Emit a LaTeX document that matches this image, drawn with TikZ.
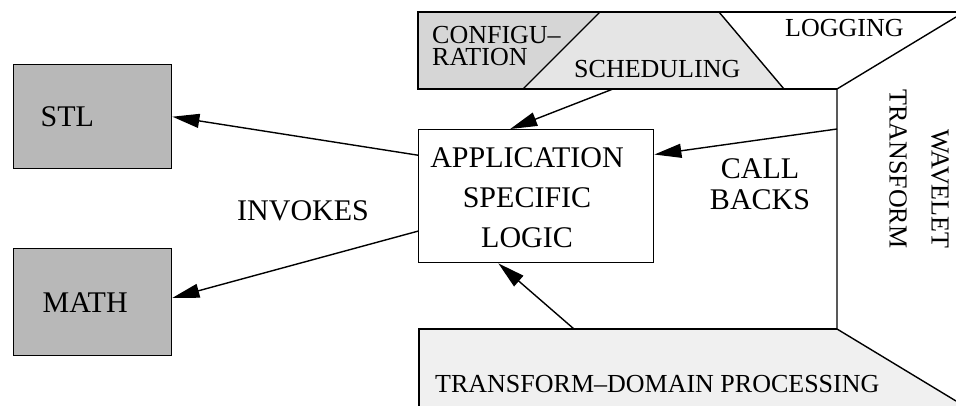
\documentclass[tikz,border=0pt]{standalone}
\usepackage{fontspec}
\setmainfont{LiberationSerif}[Extension=.ttf, UprightFont=*-Regular, Ligatures=TeX]
\usetikzlibrary{arrows.meta,calc}

\definecolor{libgray}{gray}{0.72}
\definecolor{cfggray}{gray}{0.84}
\definecolor{schgray}{gray}{0.90}
\definecolor{tdgray}{gray}{0.94}

\tikzset{
  big/.style={font=\fontsize{30}{36}\selectfont},
  small/.style={font=\fontsize{26}{30}\selectfont},
  outline/.style={line width=1.4pt, line join=miter},
  libbox/.style={draw, line width=1.4pt, fill=libgray, align=left,
    text width=104pt, inner xsep=27pt, inner ysep=0pt,
    minimum height=104pt, anchor=north west, big},
  appbox/.style={draw, line width=1.4pt, fill=white, minimum width=235pt,
    minimum height=133pt, anchor=north west, inner sep=0pt},
  arr/.style={line width=1.4pt, -{Triangle[length=27pt,width=14pt]}},
  lbl/.style={inner sep=0pt, anchor=base west},
}

\begin{document}
\begin{tikzpicture}[x=1pt, y=-1pt]
  % canvas
  \fill[white] (0,0) rectangle (956,406);
  \useasboundingbox (0,0) rectangle (956,406);

  % framework band along the top: configuration, scheduling, logging
  \fill[cfggray] (418,12) -- (600,12) -- (523,89) -- (418,89) -- cycle;
  \fill[schgray] (600,12) -- (719,12) -- (784,89) -- (523,89) -- cycle;
  % transform-domain processing band along the bottom
  \fill[tdgray] (419,329) -- (837,329) -- (956,401) -- (956,406) -- (419,406) -- cycle;

  % outlines of the framework frame
  \draw[outline] (956,12) -- (418,12) -- (418,89) -- (837,89);
  \draw[outline] (600,12) -- (523,89);
  \draw[outline] (719,12) -- (784,89);
  \draw[outline] (956,17) -- (837,89) -- (837,329) -- (956,401);
  \draw[outline] (419,406) -- (419,329) -- (837,329);

  % connector origins on the frame
  \coordinate (schedOut) at (613,89);
  \coordinate (cbOut) at (837,129);
  \coordinate (tdOut) at (574,329);

  % frame labels
  \node[small, inner sep=0pt, anchor=west, align=left,
        font=\fontsize{26}{22}\selectfont] (cfg) at (432,46) {CONFIGU–\\RATION};
  \node[small, lbl] (sched) at (574,78) {SCHEDULING};
  \node[small, lbl] (logg) at (785,37) {LOGGING};
  \node[inner sep=0pt, rotate=-90, align=right,
        font=\fontsize{26}{42}\selectfont] (wav) at (919,169) {WAVELET\\TRANSFORM};
  \node[small, lbl] (tdp) at (435,392) {TRANSFORM–DOMAIN PROCESSING};

  % library boxes
  \node[libbox] (stl) at (13,64) {STL};
  \node[libbox, minimum height=107pt, inner xsep=29pt, text width=100pt] (math) at (13,248) {MATH};

  % application logic
  \node[appbox] (app) at (418,129) {};
  \node[inner sep=0pt, align=center, font=\fontsize{30}{40}\selectfont]
    (applbl) at (527,198) {APPLICATION\\SPECIFIC\\LOGIC};

  % connector labels
  \node[big, lbl] (inv) at (237,221) {INVOKES};
  \node[inner sep=0pt, align=center, font=\fontsize{30}{31}\selectfont]
    (cb) at (760,184.5) {CALL\\BACKS};

  % connectors
  \draw[arr] ($(app.north west)!0.195!(app.south west)$) -- (stl.east);
  \draw[arr] ($(app.north west)!0.76!(app.south west)$) -- ($(math.north east)!0.46!(math.south east)$);
  \draw[arr] (schedOut) -- ($(app.north west)!0.39!(app.north east)$);
  \draw[arr] (cbOut) -- ($(app.north east)!0.19!(app.south east)$);
  \draw[arr] (tdOut) -- ($(app.south west)!0.34!(app.south east)$);
\end{tikzpicture}
\end{document}
